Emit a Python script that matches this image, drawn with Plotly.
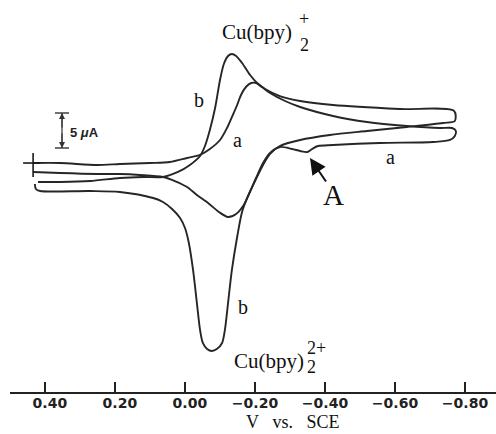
import plotly.graph_objects as go

# ---- data (potential in V vs. SCE, current in microamps) ----
a_V = [0.434, 0.357, 0.251, 0.186, 0.100, 0.043, -0.006, -0.043, -0.071, -0.100,
       -0.120, -0.134, -0.149, -0.160, -0.174, -0.189, -0.203, -0.220, -0.243, -0.286,
       -0.329, -0.423, -0.520, -0.634, -0.729, -0.763, -0.774, -0.771, -0.757, -0.709,
       -0.557, -0.423, -0.380, -0.363, -0.349, -0.329, -0.306, -0.271, -0.243, -0.223,
       -0.203, -0.183, -0.166, -0.146, -0.123, -0.097, -0.066, -0.034, -0.006, 0.029,
       0.063, 0.129, 0.186, 0.251, 0.357, 0.434]
a_I = [3.14, 3.14, 2.86, 3.00, 3.14, 3.29, 3.86, 4.29, 5.14, 6.43,
       8.14, 9.71, 11.43, 12.86, 14.00, 14.57, 14.57, 14.00, 13.14, 12.00,
       11.14, 9.86, 9.00, 8.43, 8.14, 8.14, 7.71, 7.00, 6.43, 6.14,
       6.00, 5.71, 5.57, 5.14, 4.71, 4.86, 5.14, 5.43, 4.57, 3.14,
       1.00, -1.29, -3.00, -4.14, -4.57, -3.86, -2.57, -1.43, -0.29, 0.57,
       1.14, 1.43, 1.57, 1.57, 1.71, 1.86]

b_V = [0.420, 0.357, 0.271, 0.186, 0.120, 0.063, 0.020, -0.014, -0.043, -0.057,
       -0.071, -0.086, -0.100, -0.111, -0.123, -0.134, -0.146, -0.163, -0.186, -0.206,
       -0.229, -0.271, -0.329, -0.423, -0.614, -0.769, -0.771, -0.737, -0.634, -0.520,
       -0.414, -0.329, -0.271, -0.243, -0.223, -0.200, -0.180, -0.163, -0.149, -0.134,
       -0.123, -0.114, -0.106, -0.091, -0.077, -0.063, -0.051, -0.043, -0.034, -0.023,
       -0.011, 0.000, 0.014, 0.037, 0.063, 0.091, 0.186, 0.271, 0.414, 0.426,
       0.429]
b_I = [0.43, 0.43, 0.57, 1.00, 1.14, 1.14, 1.86, 2.86, 4.14, 5.57,
       7.86, 11.00, 15.00, 17.29, 18.43, 18.71, 18.43, 17.43, 15.71, 14.57,
       13.71, 12.71, 12.00, 11.43, 10.86, 10.57, 9.14, 8.86, 8.29, 7.71,
       7.14, 6.43, 5.57, 4.43, 2.86, 0.57, -1.57, -3.86, -7.43, -12.14,
       -16.86, -20.71, -22.57, -23.43, -23.71, -23.43, -22.57, -20.71, -16.86, -12.14,
       -8.29, -6.14, -4.71, -3.43, -2.43, -1.86, -1.00, -0.86, -0.86, -0.57,
       0.14]

tick_vals = [0.40, 0.20, 0.00, -0.20, -0.40, -0.60, -0.80]
tick_text = ["\u20070.40", "\u20070.20", "\u20070.00", "\u22120.20", "\u22120.40", "\u22120.60", "\u22120.80"]
x_title = "V\u2002 vs.\u2002 SCE"

scale_uA = 5          # scale-bar length
start_V, start_I = 0.434, 3.14   # starting-point cross

# ---- layout helpers (page pixels -> axis units) ----
W, H = 496, 434
ML, MR, MT, MB = 10, 0, 0, 42
X_RANGE = [0.5, (185 - 496) / 350]
Y_RANGE = [(185 - 392) / 7, 185 / 7]


def vx(px):
    return (185 - px) / 350


def iy(py):
    return (185 - py) / 7


LINE = dict(color="#262626", width=1.9)
SERIF = "Liberation Serif, Times New Roman, serif"
SANS = "DejaVu Sans, Arial, sans-serif"

fig = go.Figure()
fig.add_trace(go.Scatter(x=a_V, y=a_I, mode="lines", line=dict(**LINE, shape="spline", smoothing=0.8),
                         name="a", hoverinfo="skip"))
fig.add_trace(go.Scatter(x=b_V, y=b_I, mode="lines", line=dict(**LINE, shape="spline", smoothing=0.8),
                         name="b", hoverinfo="skip"))

shapes = []
# start cross
shapes.append(dict(type="line", x0=start_V + 10 / 350, x1=start_V - 7 / 350, y0=start_I, y1=start_I,
                   line=dict(color="#1a1a1a", width=1.6)))
shapes.append(dict(type="line", x0=start_V, x1=start_V, y0=start_I + 10 / 7, y1=start_I - 14 / 7,
                   line=dict(color="#1a1a1a", width=1.6)))
# scale bar
sb_x = vx(62)
sb_bot = iy(148)
sb_top = sb_bot + scale_uA
for yy in (sb_bot, sb_top):
    shapes.append(dict(type="line", x0=sb_x + 7 / 350, x1=sb_x - 7 / 350, y0=yy, y1=yy,
                       line=dict(color="#333", width=1.4)))
shapes.append(dict(type="line", x0=sb_x, x1=sb_x, y0=sb_bot, y1=sb_top, line=dict(color="#333", width=1.2)))

annotations = []
# scale bar arrowheads
annotations.append(dict(x=sb_x, y=sb_top, ax=0, ay=16, text="", showarrow=True, arrowhead=2,
                        arrowsize=1, arrowwidth=1.2, arrowcolor="#333"))
annotations.append(dict(x=sb_x, y=sb_bot, ax=0, ay=-16, text="", showarrow=True, arrowhead=2,
                        arrowsize=1, arrowwidth=1.2, arrowcolor="#333"))
annotations.append(dict(x=vx(68), y=iy(132), text="<b>5 <i>\u03bc</i>A</b>", showarrow=False,
                        xanchor="left", yanchor="middle",
                        font=dict(family="Liberation Sans, Arial, sans-serif", size=13, color="#222")))


def add_text(txt, xp, yp, size, anchor="center"):
    annotations.append(dict(x=vx(xp), y=iy(yp), text=txt, showarrow=False, xanchor=anchor, yanchor="middle",
                            font=dict(family=SERIF, size=size, color="#111")))


# species labels
add_text("Cu(bpy)", 220, 32, 21, "left")
add_text("+", 304, 19, 18)
add_text("2", 304, 45, 18)
add_text("Cu(bpy)", 232, 361, 21, "left")
add_text("2+", 305, 348, 18, "left")
add_text("2", 305, 367, 18, "left")

for lbl, xp, yp in [("b", 199, 100), ("a", 237, 140), ("b", 243, 307), ("a", 390, 157)]:
    add_text(lbl, xp, yp, 20)

# arrow A
annotations.append(dict(x=vx(310), y=iy(158), ax=17, ay=25, text="", showarrow=True, arrowhead=2,
                        arrowsize=1.6, arrowwidth=2, arrowcolor="#111"))
add_text("A", 333, 195, 29)

# axis title (placed precisely below tick labels)
annotations.append(dict(x=vx(293), y=(H - 422 - MB) / (H - MT - MB), xref="x", yref="paper", text=x_title,
                        showarrow=False, xanchor="center", yanchor="middle",
                        font=dict(family=SERIF, size=18, color="#111")))

fig.update_layout(
    width=W, height=H,
    margin=dict(l=ML, r=MR, t=MT, b=MB, pad=0),
    paper_bgcolor="white", plot_bgcolor="white",
    showlegend=False,
    shapes=shapes, annotations=annotations,
    xaxis=dict(range=X_RANGE, tickvals=tick_vals, ticktext=tick_text, ticks="inside", ticklen=10,
               tickwidth=1.5, tickcolor="#222", showline=True, linecolor="#222", linewidth=2,
               showgrid=False, zeroline=False, automargin=False, ticklabelstandoff=-3,
               tickfont=dict(family=SANS, size=14, color="#222", weight="bold")),
    yaxis=dict(range=Y_RANGE, visible=False, showgrid=False, zeroline=False),
)

fig.write_html("out.html")
